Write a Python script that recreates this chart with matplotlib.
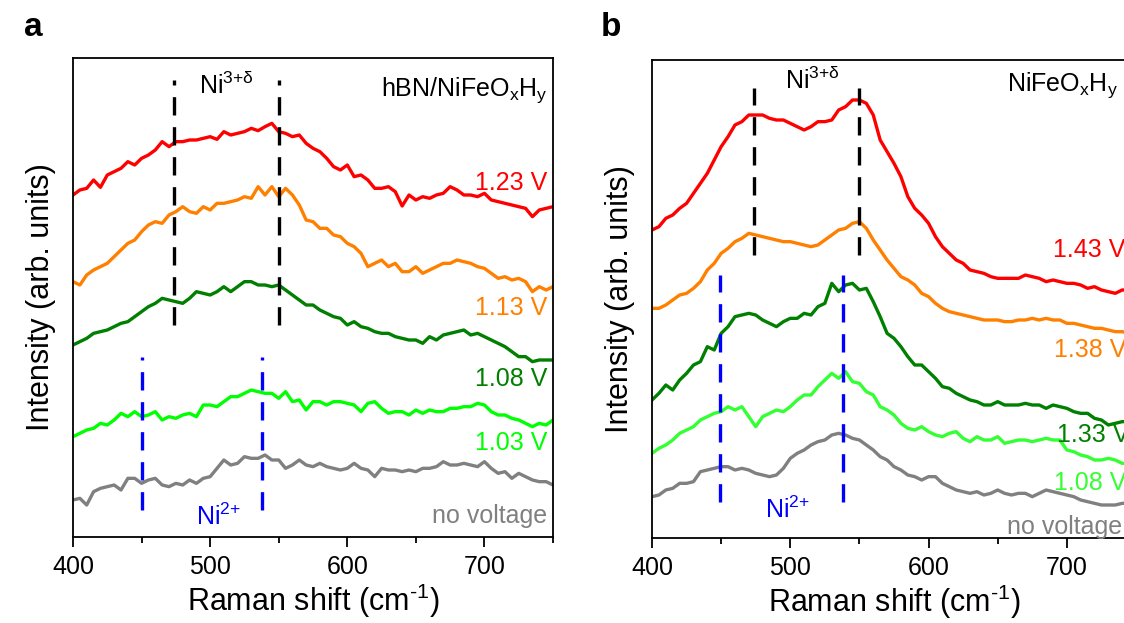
import matplotlib.pyplot as plt
import numpy as np

plt.rcParams['font.family'] = ['Liberation Sans', 'DejaVu Sans']
plt.rcParams['mathtext.fontset'] = 'custom'
plt.rcParams['mathtext.rm'] = 'Liberation Sans'
plt.rcParams['mathtext.it'] = 'Liberation Sans'

# Raman shift grid (cm-1), read every 5 cm-1
shift = np.arange(400, 751, 5)

# panel a: hBN/NiFeOxHy (arb. units, curves already offset)
a_123 = [1026, 1041, 1046, 1071, 1049, 1086, 1096, 1106, 1126, 1116, 1136, 1146, 1161, 1186, 1171, 1186, 1186, 1191,
         1191, 1196, 1201, 1193, 1216, 1206, 1211, 1216, 1226, 1219, 1231, 1241, 1216, 1211, 1201, 1206, 1181, 1166,
         1156, 1136, 1111, 1101, 1116, 1081, 1086, 1071, 1046, 1046, 1051, 1036, 993, 1026, 1011, 1021, 1016, 1026,
         1031, 1051, 1041, 1026, 1026, 1021, 1031, 1011, 1006, 1001, 996, 991, 986, 961, 981, 986, 991]
a_113 = [766, 756, 786, 801, 811, 821, 841, 861, 881, 891, 916, 936, 946, 941, 966, 976, 991, 976, 971, 991, 981, 1001,
         1001, 1006, 1011, 1021, 1016, 1051, 1026, 1051, 1021, 1046, 1026, 996, 951, 946, 926, 926, 906, 901, 881, 871,
         851, 811, 821, 831, 811, 821, 796, 796, 811, 791, 801, 811, 821, 821, 831, 826, 821, 811, 806, 791, 776, 781,
         771, 776, 766, 736, 751, 741, 751]
a_108 = [576, 586, 596, 611, 616, 621, 631, 641, 646, 661, 676, 691, 701, 716, 711, 706, 701, 716, 736, 731, 726, 736,
         751, 736, 751, 766, 766, 756, 756, 751, 756, 741, 726, 711, 696, 696, 681, 671, 661, 656, 636, 646, 631, 626,
         616, 611, 611, 601, 596, 591, 591, 581, 601, 591, 606, 611, 616, 621, 606, 611, 601, 591, 581, 571, 556, 541,
         541, 526, 531, 531, 531]
a_103 = [301, 311, 321, 326, 341, 336, 351, 371, 361, 376, 361, 366, 376, 351, 361, 356, 366, 371, 361, 396, 396, 391,
         406, 421, 421, 431, 441, 436, 431, 431, 416, 436, 406, 411, 381, 406, 406, 396, 406, 406, 401, 396, 376, 401,
         406, 386, 371, 376, 376, 366, 381, 371, 381, 376, 376, 386, 386, 391, 391, 401, 396, 376, 366, 366, 356, 351,
         341, 331, 341, 336, 351]
a_off = [111, 116, 96, 136, 146, 151, 156, 141, 176, 176, 161, 171, 176, 156, 151, 161, 156, 171, 161, 176, 181, 206,
         231, 216, 221, 241, 236, 236, 246, 231, 231, 206, 216, 231, 216, 211, 221, 211, 206, 201, 206, 221, 206, 201,
         181, 206, 201, 201, 196, 201, 196, 206, 206, 211, 226, 216, 216, 221, 216, 211, 226, 206, 191, 196, 176, 191,
         181, 171, 166, 166, 156]

# panel b: NiFeOxHy
b_143 = [924, 934, 959, 969, 989, 1004, 1034, 1064, 1094, 1134, 1174, 1204, 1239, 1249, 1269, 1269, 1269, 1259, 1254,
         1254, 1244, 1234, 1224, 1234, 1249, 1249, 1254, 1284, 1294, 1314, 1314, 1304, 1269, 1194, 1159, 1124, 1084,
         1024, 989, 969, 944, 904, 874, 854, 834, 824, 804, 799, 794, 784, 779, 779, 779, 779, 789, 784, 779, 769, 774,
         769, 764, 764, 759, 749, 754, 744, 739, 734, 744, 744, 742]
b_138 = [689, 689, 699, 714, 729, 734, 749, 769, 804, 824, 854, 869, 889, 899, 914, 909, 904, 899, 894, 889, 889, 884,
         879, 874, 879, 894, 909, 924, 929, 944, 949, 929, 894, 864, 834, 809, 784, 774, 759, 734, 724, 704, 689, 679,
         674, 669, 664, 659, 654, 654, 654, 649, 649, 654, 654, 659, 654, 659, 654, 654, 644, 644, 639, 634, 629, 629,
         624, 619, 619, 614, 614]
b_133 = [414, 434, 459, 444, 474, 494, 519, 529, 574, 564, 614, 634, 664, 669, 674, 669, 654, 644, 634, 649, 659, 659,
         674, 669, 694, 704, 764, 739, 759, 764, 744, 749, 709, 664, 614, 599, 574, 544, 519, 519, 499, 479, 454, 449,
         434, 424, 414, 409, 399, 399, 409, 399, 399, 399, 404, 399, 399, 389, 399, 394, 389, 379, 374, 374, 359, 354,
         339, 344, 349, 349, 344]
b_108 = [254, 269, 279, 294, 314, 324, 334, 354, 364, 374, 379, 394, 384, 394, 364, 334, 364, 374, 384, 379, 394, 414,
         429, 429, 454, 474, 494, 479, 499, 469, 464, 439, 429, 394, 384, 369, 344, 329, 324, 334, 319, 309, 304, 314,
         319, 299, 289, 304, 294, 294, 304, 284, 289, 294, 294, 289, 294, 299, 294, 294, 264, 259, 249, 244, 234, 234,
         239, 234, 224, 224, 219]
b_off = [124, 129, 144, 149, 164, 164, 169, 199, 204, 209, 214, 214, 204, 209, 204, 194, 189, 184, 189, 209, 239, 254,
         264, 279, 289, 294, 309, 314, 309, 299, 294, 279, 264, 244, 234, 214, 204, 189, 184, 174, 184, 184, 164, 154,
         144, 139, 134, 139, 129, 134, 144, 134, 129, 134, 134, 124, 134, 144, 139, 134, 129, 124, 114, 109, 104, 99,
         99, 99, 104, 104, 99]

a_labels = ['1.23 V', '1.13 V', '1.08 V', '1.03 V', 'no voltage']
b_labels = ['1.43 V', '1.38 V', '1.33 V', '1.08 V', 'no voltage']
a_colors = ['#ff0000', '#ff8000', '#007f00', '#00ff00', '#808080']
b_colors = ['#ff0000', '#ff8000', '#008000', '#33ff33', '#808080']

# peak markers
ni3_peaks = [474, 550]
ni2_peaks_a = [450, 538]
ni2_peaks_b = [449, 538]

NI3 = 'Ni$^{\\text{3+\u03b4}}$'
NI2 = 'Ni$^{\\text{2+}}$'
DASH = (0, (5.5, 3.5))

fig = plt.figure(figsize=(11.24, 6.23), dpi=100)
ax_a = fig.add_axes([73 / 1124, 86 / 623, 480 / 1124, 479 / 623])
ax_b = fig.add_axes([652 / 1124, 85 / 623, 484 / 1124, 478 / 623])

FS = 18


def style_axis(ax, ylim):
    ax.set_xlim(400, 750)
    ax.set_ylim(*ylim)
    ax.set_xticks([400, 500, 600, 700])
    ax.set_xticks([450, 550, 650, 750], minor=True)
    ax.set_yticks([])
    ax.tick_params(axis='x', which='major', direction='out', length=7, width=1.3, labelsize=FS, pad=6)
    ax.tick_params(axis='x', which='minor', direction='out', length=4, width=1.3)
    for sp in ax.spines.values():
        sp.set_linewidth(1.3)
    ax.set_xlabel('Raman shift (cm$^{\\text{-1}}$)', fontsize=22, labelpad=2)
    ax.set_ylabel('Intensity (arb. units)', fontsize=22, labelpad=12)


# panel a
for y, c in zip([a_123, a_113, a_108, a_103, a_off], a_colors):
    ax_a.plot(shift, y, color=c, lw=2.4)
ax_a.vlines(ni3_peaks, 636, 1371, colors='black', lw=2.4, linestyles=DASH)
ax_a.vlines(ni2_peaks_a, 81, 540, colors='blue', lw=2.4, linestyles=DASH)
ax_a.text(512, 1356, NI3, fontsize=FS, ha='center', va='center')
ax_a.text(506, 60, NI2, fontsize=FS, ha='center', va='center', color='blue')
ax_a.text(746, 1341, 'hBN/NiFeO$_\\mathrm{x}$H$_\\mathrm{y}$', fontsize=FS, ha='right', va='center')
for lab, c, yy in zip(a_labels, a_colors, [1062, 687, 474, 282, 63]):
    ax_a.text(746, yy, lab, fontsize=FS, ha='right', va='center', color=c)
style_axis(ax_a, (0, 1437))

# panel b
for y, c in zip([b_143, b_138, b_133, b_108, b_off], b_colors):
    ax_b.plot(shift, y, color=c, lw=2.4)
ax_b.vlines(ni3_peaks, 850, 1350, colors='black', lw=2.4, linestyles=DASH)
ax_b.vlines(ni2_peaks_b, 109, 789, colors='blue', lw=2.4, linestyles=DASH)
ax_b.text(516, 1374, NI3, fontsize=FS, ha='center', va='center')
ax_b.text(498, 84, NI2, fontsize=FS, ha='center', va='center', color='blue')
ax_b.text(737, 1359, 'NiFeO$_\\mathrm{x}$H$_\\mathrm{y}$', fontsize=FS, ha='right', va='center')
for lab, c, xx, yy in zip(b_labels, b_colors, [690, 691, 693, 691, 657], [864, 564, 309, 165, 33]):
    ax_b.text(xx, yy, lab, fontsize=FS, ha='left', va='center', color=c)
style_axis(ax_b, (0, 1434))

fig.text(33 / 1124, 1 - 27 / 623, 'a', fontsize=24, fontweight='bold', ha='center', va='center')
fig.text(611 / 1124, 1 - 27 / 623, 'b', fontsize=24, fontweight='bold', ha='center', va='center')

fig.savefig('out.png', dpi=100)
